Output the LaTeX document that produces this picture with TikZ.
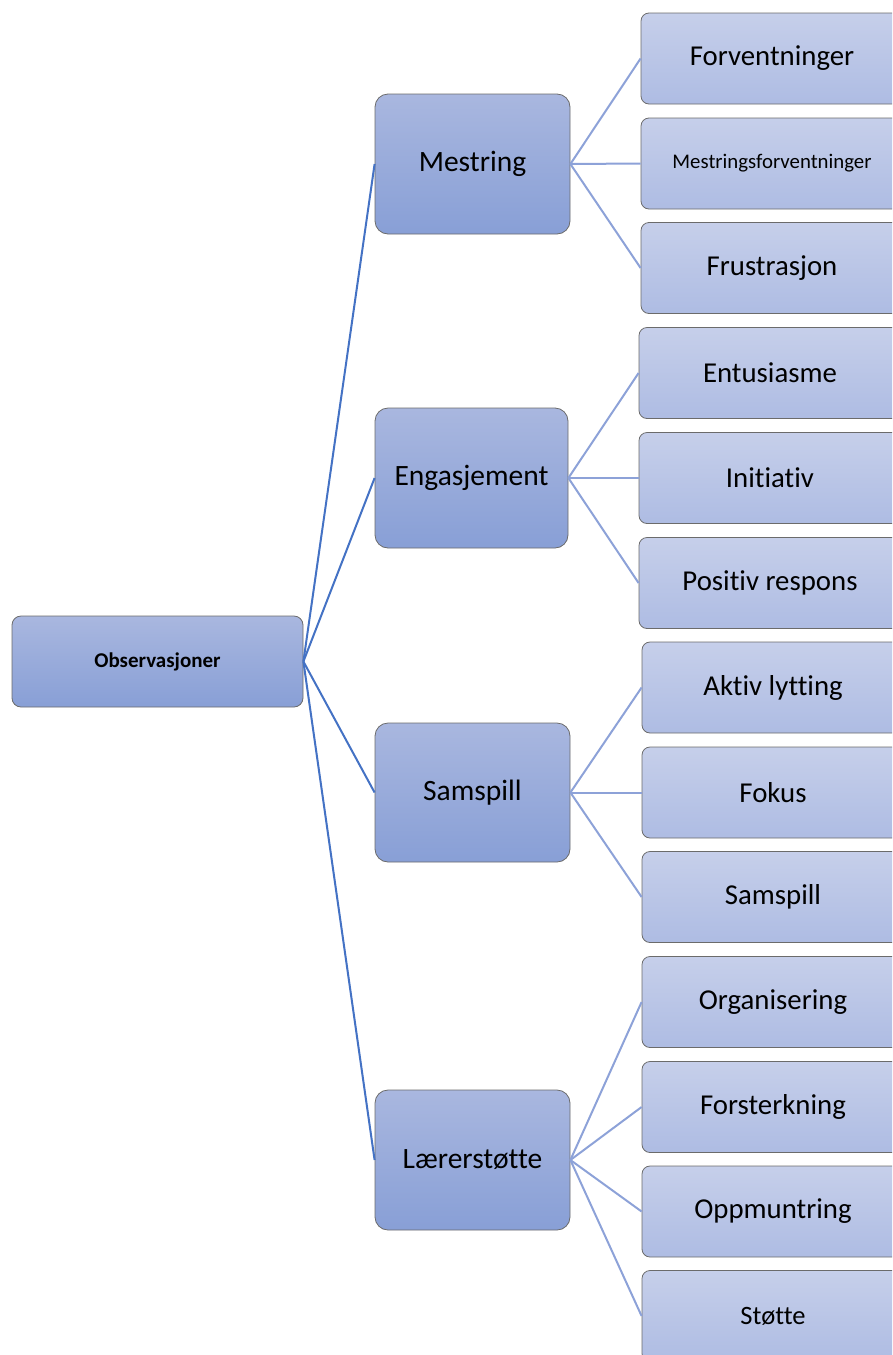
\documentclass[tikz,border=0pt]{standalone}
\usepackage{fontspec}
\setmainfont{Carlito}[Ligatures={NoCommon}]
\definecolor{midtop}{HTML}{A9B7DF}
\definecolor{midbot}{HTML}{889FD6}
\definecolor{leaftop}{HTML}{C6CFEA}
\definecolor{leafbot}{HTML}{AEBCE3}
\definecolor{bordergray}{HTML}{6B6B6B}
\definecolor{rootline}{HTML}{4472C4}
\definecolor{leafline}{HTML}{8DA2D8}
\tikzset{
  boxbase/.style={draw=bordergray, line width=0.8pt, inner sep=0pt, align=center, text=black},
  rootbox/.style={boxbase, rounded corners=9pt, minimum width=291pt, minimum height=91pt, top color=midtop, bottom color=midbot, font=\fontsize{21}{24}\selectfont\bfseries},
  midbox/.style={boxbase, rounded corners=13pt, minimum width=195pt, minimum height=140pt, top color=midtop, bottom color=midbot, font=\fontsize{29.5}{33}\selectfont},
  leafbox/.style={boxbase, rounded corners=8pt, minimum width=262pt, minimum height=91pt, top color=leaftop, bottom color=leafbot, font=\fontsize{28.8}{32}\selectfont},
  rootedge/.style={draw=rootline, line width=2pt},
  leafedge/.style={draw=leafline, line width=2pt}
}
\begin{document}
\begin{tikzpicture}[x=1pt,y=-1pt]
\useasboundingbox (0,0) rectangle (892,1355);
\clip (0,0) rectangle (892,1355);
% root
\node[rootbox] (root) at (157.5,661.5) {Observasjoner};
% mid level
\node[midbox] (m1) at (472.5,164) {Mestring};
\node[midbox, minimum width=193pt] (m2) at (471.5,478) {Engasjement};
\node[midbox, minimum height=139pt] (m3) at (472.5,792.5) {Samspill};
\node[midbox] (m4) at (472.5,1160) {Lærerstøtte};
% leaves
\node[leafbox] (l11) at (772,58.5) {Forventninger};
\node[leafbox, font=\fontsize{20.8}{24}\selectfont] (l12) at (772,163.5) {Mestringsforventninger};
\node[leafbox] (l13) at (772,268) {Frustrasjon};
\node[leafbox] (l21) at (770,373) {Entusiasme};
\node[leafbox] (l22) at (770,478) {Initiativ};
\node[leafbox] (l23) at (770,583) {Positiv respons};
\node[leafbox] (l31) at (773,687.5) {Aktiv lytting};
\node[leafbox] (l32) at (773,792.5) {Fokus};
\node[leafbox] (l33) at (773,897) {Samspill};
\node[leafbox] (l41) at (773,1002) {Organisering};
\node[leafbox] (l42) at (773,1107) {Forsterkning};
\node[leafbox] (l43) at (773,1211.5) {Oppmuntring};
\node[leafbox, font=\fontsize{26.5}{30}\selectfont] (l44) at (773,1316) {Støtte};
% edges root -> mid
\foreach \m in {m1,m2,m3,m4} {
  \draw[rootedge] (root.east) -- (\m.west);
}
% edges mid -> leaves
\foreach \l in {l11,l12,l13} { \draw[leafedge] (m1.east) -- (\l.west); }
\foreach \l in {l21,l22,l23} { \draw[leafedge] (m2.east) -- (\l.west); }
\foreach \l in {l31,l32,l33} { \draw[leafedge] (m3.east) -- (\l.west); }
\foreach \l in {l41,l42,l43,l44} { \draw[leafedge] (m4.east) -- (\l.west); }
\end{tikzpicture}
\end{document}
